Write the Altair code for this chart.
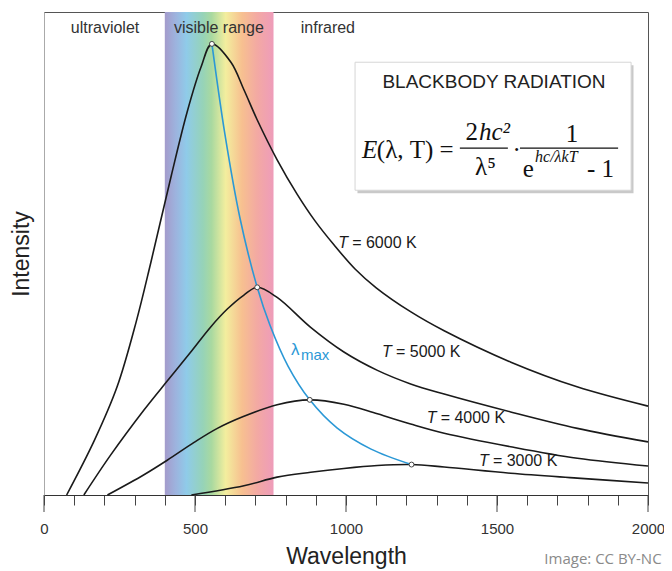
import altair as alt
import pandas as pd

# ---------------- data ----------------
wl_6000 = [75, 166, 242, 305, 354, 421, 474, 520, 556, 619, 662, 705, 772, 838, 898, 960, 1030, 1100, 1215, 1325, 1546, 1765, 2000]
in_6000 = [0, 11.2, 22.4, 35.8, 48.2, 66.0, 79.3, 88.6, 93.4, 89.6, 83.9, 77.8, 69.4, 62.3, 56.7, 51.8, 46.8, 42.9, 37.9, 34.0, 27.5, 22.4, 18.4]

wl_5000 = [132, 221, 331, 408, 486, 552, 607, 662, 706, 772, 883, 993, 1104, 1214, 1325, 1545, 1766, 2000]
in_5000 = [0, 8.3, 17.6, 23.6, 29.6, 34.8, 38.5, 41.4, 43.0, 40.9, 34.7, 29.6, 25.8, 23.0, 20.9, 17.2, 13.8, 11.0]

wl_4000 = [210, 331, 408, 497, 574, 662, 772, 880, 993, 1104, 1214, 1325, 1545, 1766, 2000]
in_4000 = [0, 4.2, 7.2, 10.9, 13.8, 16.3, 18.7, 19.7, 18.8, 16.8, 14.7, 12.8, 10.0, 7.6, 6.0]

wl_3000 = [488, 662, 772, 883, 993, 1104, 1217, 1325, 1545, 1766, 2000]
in_3000 = [0, 1.9, 3.7, 4.7, 5.5, 6.1, 6.3, 5.8, 4.5, 3.5, 2.5]

wl_max = [556, 599, 649, 706, 748, 808, 880, 970, 1083, 1217]
in_max = [93.4, 74.7, 57.3, 43.0, 35.2, 26.7, 19.7, 13.9, 9.5, 6.3]

peak_wl = [556, 706, 880, 1217]
peak_in = [93.4, 43.0, 19.7, 6.3]

visible_range = [400, 760]
visible_colors = ["#a49bcb", "#9db3de", "#8fcbe9", "#96d3b8", "#a9d9a0", "#f3ee9e", "#f7c090", "#f3a9a3", "#ee9cba"]
visible_offsets = [0, 0.1, 0.2, 0.35, 0.43, 0.56, 0.71, 0.85, 1.0]

region_labels = ["ultraviolet", "visible range", "infrared"]
region_x = [202, 579, 940]
region_y = [96.6, 96.6, 96.6]

temp_labels = ["= 6000 K", "= 5000 K", "= 4000 K", "= 3000 K"]
temp_x = [974, 1119, 1267, 1440]
temp_y = [52.1, 29.6, 15.9, 7.0]

box_x = [1030, 1944]
box_y = [63.1, 89.6]

major_ticks = [0, 500, 1000, 1500, 2000]

# ---------------- tables ----------------
curves = []
for T, wl, iv in [(6000, wl_6000, in_6000), (5000, wl_5000, in_5000),
                  (4000, wl_4000, in_4000), (3000, wl_3000, in_3000)]:
    for i, (a, b) in enumerate(zip(wl, iv)):
        curves.append({"T": T, "i": i, "x": a, "y": b})
df_curves = pd.DataFrame(curves)
df_max = pd.DataFrame({"i": range(len(wl_max)), "x": wl_max, "y": in_max})
df_peaks = pd.DataFrame({"x": peak_wl, "y": peak_in})
df_band = pd.DataFrame({"x": [visible_range[0]], "x2": [visible_range[1]], "y": [0], "y2": [100]})
df_regions = pd.DataFrame({"x": region_x, "y": region_y, "t": region_labels})
df_T = pd.DataFrame({"x": temp_x, "y": temp_y, "t": ["T"] * 4})
df_Trest = pd.DataFrame({"x": temp_x, "y": temp_y, "t": temp_labels})
df_box = pd.DataFrame({"x": [box_x[0]], "x2": [box_x[1]], "y": [box_y[0]], "y2": [box_y[1]]})
df_shadow = pd.DataFrame({"x": [box_x[0] + 8], "x2": [box_x[1] + 8], "y": [box_y[0] - 0.6], "y2": [box_y[1] - 0.6]})
df_ticks = pd.DataFrame({"x": major_ticks})

W, H = 604, 483
SANS = "Liberation Sans"
SERIF = "Liberation Serif"

xs = alt.Scale(domain=[0, 2000], nice=False, zero=False)
ys = alt.Scale(domain=[0, 100], nice=False, zero=False)
xaxis = alt.Axis(values=list(range(0, 2001, 100)), format="d",
                 labelExpr="datum.value % 500 === 0 ? datum.label : ''",
                 labelOverlap=False, labelFlush=False,
                 tickSize=10, tickColor="#444", domainColor="#333",
                 labelFont=SANS, labelFontSize=15, labelColor="#333", labelPadding=16,
                 title="Wavelength", titleFont=SANS, titleFontSize=23,
                 titleFontWeight="normal", titleColor="#222", titlePadding=9, grid=False)
yaxis = alt.Axis(labels=False, ticks=False, grid=False, domainColor="#aaa",
                 title="Intensity", titleFont=SANS, titleFontSize=23,
                 titleFontWeight="normal", titleColor="#222", titlePadding=11)
X = alt.X("x:Q", scale=xs, axis=xaxis)
Y = alt.Y("y:Q", scale=ys, axis=yaxis)

gradient = {"gradient": "linear", "x1": 0, "x2": 1, "y1": 0, "y2": 0,
            "stops": [{"offset": o, "color": c} for o, c in zip(visible_offsets, visible_colors)]}

band = alt.Chart(df_band).mark_rect(fill=gradient).encode(x=X, x2="x2", y=Y, y2="y2")

lines = alt.Chart(df_curves).mark_line(color="#1a1a1a", strokeWidth=1.6, interpolate="catmull-rom").encode(
    x=X, y=Y, detail="T:N", order="i:Q")
maxline = alt.Chart(df_max).mark_line(color="#2b98d6", strokeWidth=1.6, interpolate="catmull-rom").encode(
    x=X, y=Y, order="i:Q")
peaks = alt.Chart(df_peaks).mark_point(shape="circle", filled=True, fill="white", stroke="#444",
                                       strokeWidth=1, size=24, opacity=1).encode(x=X, y=Y)

shadow = alt.Chart(df_shadow).mark_rect(fill="#c9c9c9").encode(x=X, x2="x2", y=Y, y2="y2")
box = alt.Chart(df_box).mark_rect(fill="white", stroke="#d6d6d6", strokeWidth=1).encode(x=X, x2="x2", y=Y, y2="y2")

ticks = alt.Chart(df_ticks).mark_rule(color="#444", strokeWidth=1).encode(
    x=X, y=alt.value(H), y2=alt.value(H + 17))


def text_layer(xv, yv, texts, **kw):
    df = pd.DataFrame({"x": xv, "y": yv, "t": texts})
    return alt.Chart(df).mark_text(**kw).encode(x=X, y=Y, text="t:N")


regions = alt.Chart(df_regions).mark_text(font=SANS, fontSize=16, color="#333").encode(x=X, y=Y, text="t:N")
tT = alt.Chart(df_T).mark_text(font=SANS, fontSize=16, fontStyle="italic", align="left", color="#1a1a1a").encode(
    x=X, y=Y, text="t:N")
tRest = alt.Chart(df_Trest).mark_text(font=SANS, fontSize=16, align="left", dx=14, color="#1a1a1a").encode(
    x=X, y=Y, text="t:N")

lam = text_layer([818], [30.0], ["λ"], font=SANS, fontSize=17, align="left", color="#2b98d6")
lam_sub = text_layer([851], [29.0], ["max"], font=SANS, fontSize=15, align="left", color="#2b98d6")

title = text_layer([1490], [85.5], ["BLACKBODY RADIATION"], font=SANS, fontSize=19, color="#222")

FB = dict(font=SERIF, color="#111", baseline="alphabetic")
f_E = text_layer([1053], [69.7], ["E"], fontSize=25, fontStyle="italic", align="left", **FB)
f_E2 = text_layer([1102], [69.7], ["(λ, T) ="], fontSize=25, align="left", **FB)
f_n1a = text_layer([1437], [73.5], ["2"], fontSize=25, align="right", **FB)
f_n1b = text_layer([1440], [73.5], ["hc²"], fontSize=25, fontStyle="italic", align="left", **FB)
f_d1 = text_layer([1462], [66.2], ["λ⁵"], fontSize=25, **FB)
f_dot = text_layer([1565], [71.4], ["·"], font=SERIF, fontSize=25, color="#111")
f_n2 = text_layer([1748], [73.1], ["1"], fontSize=25, **FB)
f_e = text_layer([1604], [65.8], ["e"], fontSize=25, **FB)
f_sup = text_layer([1626], [69.0], ["hc/λkT"], fontSize=16, fontStyle="italic", align="left", **FB)
f_m1 = text_layer([1798], [65.8], ["- 1"], fontSize=25, align="left", **FB)

df_bars = pd.DataFrame({"x": [1377, 1576], "x2": [1536, 1901], "y": [71.8, 71.8]})
bars = alt.Chart(df_bars).mark_rule(color="#111", strokeWidth=1.2).encode(x=X, x2="x2", y=Y)

credit = text_layer([2045], [-13.2], ["Image: CC BY-NC"], font="Open Sans", fontSize=15, align="right", color="#8a8a8a")

chart = alt.layer(
    band, lines, maxline, peaks, shadow, box, ticks,
    regions, tT, tRest, lam, lam_sub, title,
    f_E, f_E2, f_n1a, f_n1b, f_d1, f_dot, f_n2, f_e, f_sup, f_m1, bars, credit
).properties(
    width=W, height=H,
    autosize=alt.AutoSizeParams(type="none"),
    padding={"left": 36, "top": 4, "right": 16, "bottom": 76},
    background="white",
).configure_view(stroke="#555", strokeWidth=1)

chart.save("out.html", embed_options={"renderer": "svg", "actions": False})
